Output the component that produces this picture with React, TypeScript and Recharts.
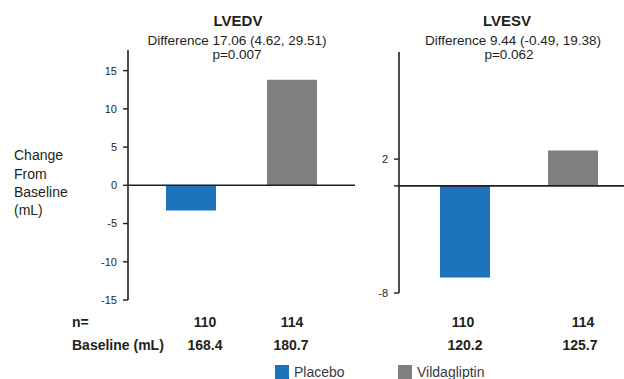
import React from 'react';
import { BarChart, Bar, XAxis, YAxis, ReferenceLine, Cell } from 'recharts';

const groups = ['Placebo', 'Vildagliptin'];
const lvedvChange = [-3.3, 13.8];
const lvesvChange = [-6.85, 2.65];
const nValues = [110, 114];
const lvedvBaseline = ['168.4', '180.7'];
const lvesvBaseline = ['120.2', '125.7'];
const lvedvTicks = [-15, -10, -5, 0, 5, 10, 15];
const lvesvTicks = [-8, 0, 2];
const colors = ['#1c72bb', '#7f7f82'];

const lvedvData = groups.map((g, i) => ({ group: g, value: lvedvChange[i] }));
const lvesvData = groups.map((g, i) => ({ group: g, value: lvesvChange[i] }));

const INK = '#231f20';
const FONT = '"Liberation Sans", Arial, Helvetica, sans-serif';

export default function App() {
  return (
    <div style={{ position: 'absolute', left: 0, top: 0, width: 624, height: 379, overflow: 'hidden', background: '#fff', fontFamily: FONT }}>
      <div style={{ position: 'absolute', left: 0, top: 0 }}>
        <BarChart width={360} height={379} data={lvedvData} margin={{ top: 50, right: 5, bottom: 79, left: 0 }}>
          <XAxis dataKey="group" hide padding={{ left: 12, right: 13 }} />
          <YAxis
            width={128}
            domain={[-15, 17.7]}
            ticks={lvedvTicks}
            allowDataOverflow
            interval={0}
            axisLine={{ stroke: INK, strokeWidth: 1.6 }}
            tickLine={{ stroke: INK, strokeWidth: 1.4 }}
            tickSize={5}
            tickMargin={6}
            tick={{ fontSize: 11, fill: INK, fontFamily: FONT }}
          />
          <Bar dataKey="value" barSize={50} isAnimationActive={false}>
            {lvedvData.map((d, i) => (
              <Cell key={d.group} fill={colors[i]} />
            ))}
          </Bar>
          <ReferenceLine y={0} stroke={INK} strokeWidth={1.6} />
        </BarChart>
      </div>
      <div style={{ position: 'absolute', left: 340, top: 0 }}>
        <BarChart width={290} height={379} data={lvesvData} margin={{ top: 52, right: 3, bottom: 86, left: 0 }}>
          <XAxis dataKey="group" hide padding={{ left: 12, right: 0 }} />
          <YAxis
            width={59}
            domain={[-8, 10]}
            ticks={lvesvTicks}
            allowDataOverflow
            interval={0}
            tickFormatter={(v: number) => (v === 0 ? '' : String(v))}
            axisLine={{ stroke: INK, strokeWidth: 1.6 }}
            tickLine={{ stroke: INK, strokeWidth: 1.4 }}
            tickSize={5}
            tickMargin={6}
            tick={{ fontSize: 11, fill: INK, fontFamily: FONT }}
          />
          <Bar dataKey="value" barSize={50} isAnimationActive={false}>
            {lvesvData.map((d, i) => (
              <Cell key={d.group} fill={colors[i]} />
            ))}
          </Bar>
          <ReferenceLine y={0} stroke={INK} strokeWidth={1.6} />
        </BarChart>
      </div>
      <svg width={624} height={379} style={{ position: 'absolute', left: 0, top: 0, pointerEvents: 'none' }} fontFamily={FONT}>
        <text x={238} y={26} textAnchor="middle" fontSize={15} fontWeight="bold" fill={INK}>LVEDV</text>
        <text x={237} y={45} textAnchor="middle" fontSize={13.5} fill={INK}>Difference 17.06 (4.62, 29.51)</text>
        <text x={237} y={59} textAnchor="middle" fontSize={13.5} fill={INK}>p=0.007</text>
        <text x={507} y={26} textAnchor="middle" fontSize={15} fontWeight="bold" fill={INK}>LVESV</text>
        <text x={513} y={45} textAnchor="middle" fontSize={13.5} fill={INK}>Difference 9.44 (-0.49, 19.38)</text>
        <text x={509} y={59} textAnchor="middle" fontSize={13.5} fill={INK}>p=0.062</text>

        <text x={14} y={160} fontSize={14} fill={INK}>Change</text>
        <text x={14} y={178.5} fontSize={14} fill={INK}>From</text>
        <text x={14} y={197} fontSize={14} fill={INK}>Baseline</text>
        <text x={14} y={215} fontSize={14} fill={INK}>(mL)</text>

        <text x={72} y={327} fontSize={14} fontWeight="bold" fill={INK}>n=</text>
        <text x={72} y={350} fontSize={14} fontWeight="bold" fill={INK}>Baseline (mL)</text>
        {[205, 292].map((x, i) => (
          <text key={'ln' + i} x={x} y={327} textAnchor="middle" fontSize={14} fontWeight="bold" fill={INK}>{nValues[i]}</text>
        ))}
        {[205, 291].map((x, i) => (
          <text key={'lb' + i} x={x} y={350} textAnchor="middle" fontSize={14} fontWeight="bold" fill={INK}>{lvedvBaseline[i]}</text>
        ))}
        {[463, 583].map((x, i) => (
          <text key={'rn' + i} x={x} y={327} textAnchor="middle" fontSize={14} fontWeight="bold" fill={INK}>{nValues[i]}</text>
        ))}
        {[465, 580].map((x, i) => (
          <text key={'rb' + i} x={x} y={350} textAnchor="middle" fontSize={14} fontWeight="bold" fill={INK}>{lvesvBaseline[i]}</text>
        ))}

        {[275, 398].map((x, i) => (
          <g key={'lg' + i}>
            <rect x={x} y={365} width={14} height={14} fill={colors[i]} />
            <text x={x + 19} y={377} fontSize={14} fill="#3a3a3c">{groups[i]}</text>
          </g>
        ))}
      </svg>
    </div>
  );
}
